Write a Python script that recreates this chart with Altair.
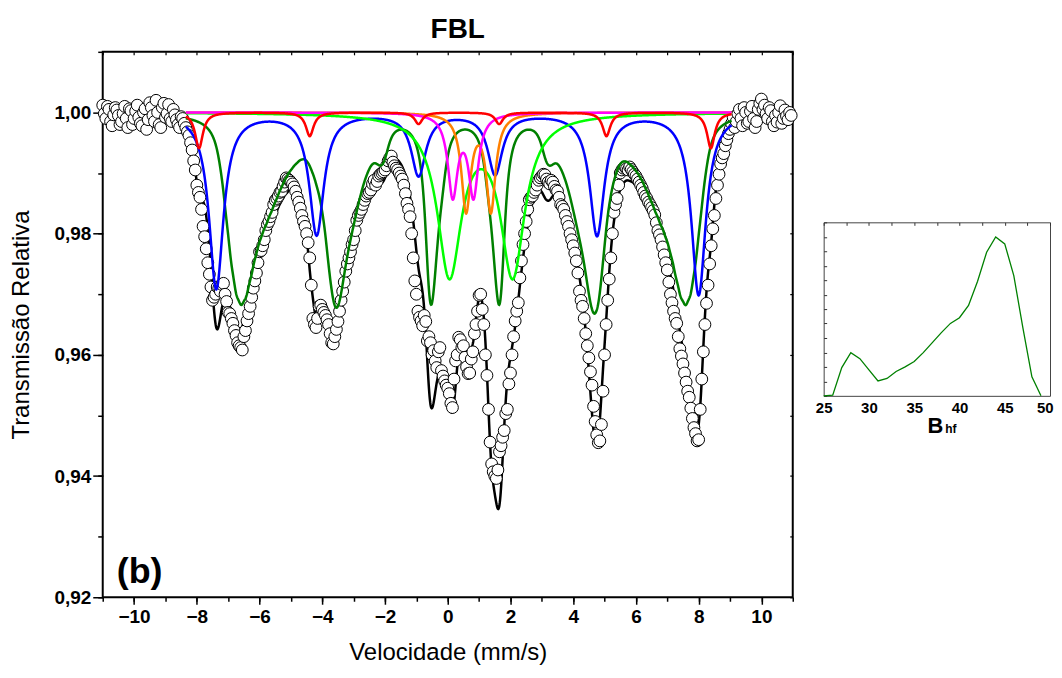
import numpy as np
import pandas as pd
import altair as alt

FONT = "Liberation Sans"

# ---------------- measured spectrum (relative transmission) ----------------
# two interleaved channel sets (folded spectrum)
VEL_START_A = -11.0
VEL_START_B = -10.95
VEL_STEP = 0.1
TRANSMISSION_A = [
    1.0012, 0.9990, 1.0005, 0.9978, 1.0008, 0.9995, 0.9985, 1.0010, 0.9975, 1.0003,
    0.9990, 1.0012, 0.9982, 1.0000, 0.9972, 1.0016, 0.9995, 1.0020, 0.9980, 1.0008,
    0.9992, 1.0013, 0.9985, 0.9996, 0.9980,
    0.9993, 0.9982, 0.9968, 0.9950, 0.9920, 0.9880, 0.9860, 0.9812, 0.9775, 0.9733,
    0.9690, 0.9700, 0.9710, 0.9716, 0.9700, 0.9670, 0.9660, 0.9640, 0.9620, 0.9612,
    0.9630, 0.9656, 0.9680, 0.9710, 0.9735, 0.9770, 0.9780, 0.9805, 0.9820, 0.9835,
    0.9855, 0.9862, 0.9870, 0.9885, 0.9890, 0.9885, 0.9877, 0.9860, 0.9842, 0.9820,
    0.9800, 0.9760, 0.9660, 0.9645, 0.9680, 0.9675, 0.9665, 0.9650, 0.9620, 0.9630,
    0.9655, 0.9690, 0.9720, 0.9750, 0.9770, 0.9790, 0.9822, 0.9835, 0.9848, 0.9862,
    0.9868, 0.9882, 0.9880, 0.9895, 0.9900, 0.9905, 0.9920, 0.9928, 0.9912, 0.9905,
    0.9895, 0.9880, 0.9850, 0.9828, 0.9760, 0.9700, 0.9662, 0.9648, 0.9655, 0.9630,
    0.9600, 0.9590, 0.9605, 0.9574, 0.9557,
    0.9545, 0.9520, 0.9560, 0.9600, 0.9625, 0.9615, 0.9580, 0.9570, 0.9605, 0.9650,
    0.9698, 0.9675, 0.9600, 0.9510, 0.9420, 0.9400, 0.9410, 0.9450, 0.9475, 0.9510,
    0.9570, 0.9630, 0.9672,
    0.9727, 0.9782, 0.9820, 0.9856, 0.9862, 0.9872, 0.9888, 0.9895, 0.9897, 0.9885,
    0.9888, 0.9878, 0.9870, 0.9848, 0.9840, 0.9820, 0.9800, 0.9780, 0.9755, 0.9705,
    0.9680, 0.9635, 0.9595, 0.9550, 0.9490, 0.9455, 0.9485, 0.9600, 0.9690, 0.9760,
    0.9835, 0.9858, 0.9900, 0.9908, 0.9907, 0.9910, 0.9902, 0.9895, 0.9885, 0.9875,
    0.9862, 0.9852, 0.9843, 0.9831, 0.9805, 0.9790, 0.9765, 0.9740, 0.9700, 0.9672,
    0.9652, 0.9610, 0.9585, 0.9555, 0.9530, 0.9495, 0.9470, 0.9460, 0.9560, 0.9650,
    0.9715, 0.9780, 0.9830, 0.9880, 0.9915, 0.9932, 0.9955, 0.9972, 0.9992, 0.9985,
    1.0005, 0.9978, 1.0000, 0.9985, 1.0010, 0.9975, 1.0005, 1.0022, 1.0012, 0.9990,
    1.0003, 0.9978, 0.9984, 1.0011, 0.9990, 0.9994, 1.0000,
]
TRANSMISSION_B = [
    0.9998, 1.0010, 0.9985, 0.9996, 1.0004, 0.9980, 0.9998, 0.9990, 1.0006, 0.9980,
    1.0002, 0.9992, 0.9978, 1.0006, 0.9988, 1.0008, 0.9985, 1.0000, 0.9975, 1.0015,
    0.9998, 0.9990, 1.0005, 0.9988, 0.9975,
    0.9990, 0.9975, 0.9962, 0.9938, 0.9905, 0.9868, 0.9840, 0.9795, 0.9752, 0.9712,
    0.9695, 0.9712, 0.9705, 0.9718, 0.9688, 0.9668, 0.9652, 0.9632, 0.9615, 0.9608,
    0.9640, 0.9668, 0.9695, 0.9722, 0.9752, 0.9772, 0.9790, 0.9815, 0.9828, 0.9848,
    0.9858, 0.9868, 0.9878, 0.9892, 0.9888, 0.9882, 0.9870, 0.9852, 0.9830, 0.9812,
    0.9785, 0.9715, 0.9650, 0.9660, 0.9682, 0.9670, 0.9658, 0.9635, 0.9618, 0.9642,
    0.9672, 0.9705, 0.9738, 0.9760, 0.9782, 0.9805, 0.9830, 0.9840, 0.9855, 0.9866,
    0.9872, 0.9888, 0.9886, 0.9898, 0.9902, 0.9912, 0.9925, 0.9918, 0.9908, 0.9900,
    0.9890, 0.9866, 0.9840, 0.9800, 0.9722, 0.9672, 0.9656, 0.9665, 0.9623, 0.9620,
    0.9607, 0.9579, 0.9612, 0.9565, 0.9550,
    0.9536, 0.9513, 0.9590, 0.9629, 0.9612, 0.9596, 0.9569, 0.9593, 0.9635, 0.9672,
    0.9700, 0.9650, 0.9566, 0.9456, 0.9407, 0.9396, 0.9440, 0.9464, 0.9503, 0.9552,
    0.9600, 0.9656, 0.9686,
    0.9755, 0.9800, 0.9840, 0.9860, 0.9868, 0.9880, 0.9892, 0.9898, 0.9890, 0.9882,
    0.9885, 0.9872, 0.9860, 0.9845, 0.9830, 0.9812, 0.9790, 0.9768, 0.9735, 0.9690,
    0.9660, 0.9615, 0.9572, 0.9515, 0.9468, 0.9458, 0.9540, 0.9650, 0.9725, 0.9800,
    0.9848, 0.9880, 0.9905, 0.9910, 0.9905, 0.9906, 0.9898, 0.9890, 0.9880, 0.9868,
    0.9858, 0.9848, 0.9838, 0.9818, 0.9798, 0.9778, 0.9752, 0.9720, 0.9686, 0.9660,
    0.9630, 0.9598, 0.9570, 0.9540, 0.9512, 0.9480, 0.9458, 0.9510, 0.9605, 0.9685,
    0.9750, 0.9808, 0.9858, 0.9898, 0.9925, 0.9945, 0.9965, 0.9982, 0.9975, 0.9998,
    0.9990, 1.0008, 0.9982, 1.0002, 0.9990, 0.9985, 1.0015, 1.0005, 0.9998, 1.0008,
    0.9985, 0.9995, 1.0000, 0.9982, 1.0004, 0.9988, 0.9995,
]

# ---------------- fitted sub-spectra (line positions / depths / half widths) ----------------
FIT_RANGE = [-8.35, 9.05]

RED_POS = [-7.93, -4.40, -0.93, 1.64, 5.06, 8.39]
RED_DEPTH = [0.0059, 0.0039, 0.0019, 0.0019, 0.0039, 0.0059]
RED_HW = 0.15

BLUE_POS = [-7.38, -4.18, -0.93, 1.51, 4.76, 8.00]
BLUE_DEPTH = [0.0290, 0.0200, 0.0102, 0.0100, 0.0201, 0.0300]
BLUE_HW = 0.28

LIME_POS = [0.054, 2.07]
LIME_DEPTH = [0.0262, 0.0262]
LIME_HW = 0.47

MAGENTA_POS = [0.16, 0.82]
MAGENTA_DEPTH = [0.01337, 0.01337]
MAGENTA_HW = 0.19

ORANGE_POS = [0.585, 1.375]
ORANGE_DEPTH = [0.0159, 0.0159]
ORANGE_HW = 0.18

# hyperfine field distribution (inset)
B_FIELD = [25, 26, 27, 28, 29, 30, 31, 32, 33, 34, 35, 36, 37, 38, 39, 40,
           41, 42, 43, 44, 45, 46, 47, 48, 49]
P_B = [0, 0.05, 1.95, 2.99, 2.57, 1.79, 1.03, 1.2, 1.68, 2.0, 2.37, 2.99, 3.68,
       4.37, 5.01, 5.4, 6.25, 7.93, 9.93, 10.99, 10.51, 8.32, 4.71, 1.31, 0]

GREEN_SHIFT = 0.5275
GREEN_QUAD = -0.0275
GREEN_LINE_SPLIT = [-0.16097, -0.09321, -0.02545, 0.02545, 0.09321, 0.16097]
GREEN_QUAD_SIGN = [1, -1, -1, -1, -1, 1]
GREEN_INTENSITY = [3.4, 2.25, 1.24, 1.24, 2.25, 3.4]
GREEN_HW = 0.17
GREEN_MAX_DEPTH = 0.0332

# ---------------- build curves ----------------
vel = np.linspace(FIT_RANGE[0], FIT_RANGE[1], 1741)


def lorentz_sum(pos, depth, hw):
    out = np.zeros_like(vel)
    for c, d in zip(pos, depth):
        out += d * hw ** 2 / ((vel - c) ** 2 + hw ** 2)
    return out


red = lorentz_sum(RED_POS, RED_DEPTH, RED_HW)
blue = lorentz_sum(BLUE_POS, BLUE_DEPTH, BLUE_HW)
lime = lorentz_sum(LIME_POS, LIME_DEPTH, LIME_HW)
magenta = lorentz_sum(MAGENTA_POS, MAGENTA_DEPTH, MAGENTA_HW)
orange = lorentz_sum(ORANGE_POS, ORANGE_DEPTH, ORANGE_HW)

green = np.zeros_like(vel)
for b, p in zip(B_FIELD, P_B):
    pos = [GREEN_SHIFT + s * b + q * GREEN_QUAD for s, q in zip(GREEN_LINE_SPLIT, GREEN_QUAD_SIGN)]
    green += lorentz_sum(pos, [p * i for i in GREEN_INTENSITY], GREEN_HW)
green = GREEN_MAX_DEPTH * green / green.max()

total = red + blue + lime + magenta + orange + green


def comp_df(depth):
    return pd.DataFrame({"v": vel, "t": 1.0 - depth})


data_df = pd.concat([
    pd.DataFrame({"v": VEL_START_A + VEL_STEP * np.arange(len(TRANSMISSION_A)),
                  "t": TRANSMISSION_A}),
    pd.DataFrame({"v": VEL_START_B + VEL_STEP * np.arange(len(TRANSMISSION_B)),
                  "t": TRANSMISSION_B}),
]).sort_values("v").reset_index(drop=True)

xs = alt.Scale(domain=[-11, 11], nice=False, zero=False)
ys = alt.Scale(domain=[0.92, 1.01], nice=False, zero=False)


def curve(df, color, width=2.5):
    return alt.Chart(df).mark_line(color=color, strokeWidth=width).encode(
        x=alt.X("v:Q", scale=xs, axis=None),
        y=alt.Y("t:Q", scale=ys, axis=None),
    )


X_MAJOR = [-10, -8, -6, -4, -2, 0, 2, 4, 6, 8, 10]
X_MINOR = list(range(-11, 12))
Y_MAJOR = [0.92, 0.94, 0.96, 0.98, 1.00]
Y_MINOR = [0.92, 0.93, 0.94, 0.95, 0.96, 0.97, 0.98, 0.99, 1.00, 1.01]

axis_major = alt.Chart(data_df).mark_point(opacity=0).encode(
    x=alt.X("v:Q", scale=xs, axis=alt.Axis(
        orient="bottom", values=X_MAJOR, tickSize=7, tickWidth=1.5, tickColor="black",
        domain=False, grid=False, labelFont=FONT, labelFontSize=19, labelFontWeight="bold",
        labelColor="black", labelPadding=3, labelFlush=False, labelOverlap=False,
        title="Velocidade (mm/s)", titleFont=FONT, titleFontSize=24, titleFontWeight="normal",
        titleColor="black", titlePadding=14)),
    y=alt.Y("t:Q", scale=ys, axis=alt.Axis(
        orient="left", values=Y_MAJOR, tickSize=10, tickWidth=1.5, tickColor="black",
        domain=False, grid=False, labelFont=FONT, labelFontSize=19, labelFontWeight="bold",
        labelColor="black", labelPadding=2, labelFlush=False, labelOverlap=False,
        labelExpr="replace(format(datum.value, '.2f'), '.', ',')",
        title="Transmissão Relativa", titleFont=FONT, titleFontSize=24, titleFontWeight="normal",
        titleColor="black", titlePadding=20)),
)

axis_minor = alt.Chart(data_df).mark_point(opacity=0).encode(
    x=alt.X("v:Q", scale=xs, axis=alt.Axis(
        orient="bottom", values=X_MINOR, tickSize=4, tickWidth=1.5, tickColor="black",
        domain=False, grid=False, labels=False, title=None)),
    y=alt.Y("t:Q", scale=ys, axis=alt.Axis(
        orient="left", values=Y_MINOR, tickSize=5, tickWidth=1.5, tickColor="black",
        domain=False, grid=False, labels=False, title=None)),
)

axis_frame = alt.Chart(data_df).mark_point(opacity=0).encode(
    x=alt.X("v:Q", scale=xs, axis=alt.Axis(
        orient="top", values=X_MINOR, tickSize=3, tickWidth=1.2, tickColor="black", offset=-3,
        domain=False, grid=False, labels=False, title=None)),
    y=alt.Y("t:Q", scale=ys, axis=alt.Axis(
        orient="right", values=Y_MINOR, tickSize=3, tickWidth=1.2, tickColor="black", offset=-3,
        domain=False, grid=False, labels=False, title=None)),
)

black_fit = curve(comp_df(total), "black", 2.5)
points = alt.Chart(data_df).mark_point(
    shape="circle", filled=True, fill="white", stroke="black", strokeWidth=1,
    size=140, opacity=1,
).encode(
    x=alt.X("v:Q", scale=xs, axis=None),
    y=alt.Y("t:Q", scale=ys, axis=None),
)

panel_label = alt.Chart(pd.DataFrame({"s": ["(b)"]})).mark_text(
    font=FONT, fontSize=36, fontWeight="bold", color="black", align="center",
    baseline="alphabetic",
).encode(x=alt.value(37), y=alt.value(533), text="s:N")

main = alt.layer(
    axis_major, axis_minor, axis_frame,
    black_fit, points,
    curve(comp_df(green), "#008000"),
    curve(comp_df(blue), "#0000FF"),
    curve(comp_df(lime), "#00FF00"),
    curve(comp_df(orange), "#FF8000"),
    curve(comp_df(magenta), "#FF00FF"),
    curve(comp_df(red), "#FF0000"),
    panel_label,
).resolve_axis(x="independent", y="independent").properties(
    width=692, height=547,
    title=alt.TitleParams("FBL", font=FONT, fontSize=28, fontWeight="bold", color="black",
                          anchor="middle", frame="group", offset=7, dx=10),
    view=alt.ViewBackground(stroke="black", strokeWidth=2),
)

# ---------------- inset: field distribution ----------------
inset_df = pd.DataFrame({"B": B_FIELD, "P": P_B})
bxs = alt.Scale(domain=[25, 50], nice=False, zero=False)
bys = alt.Scale(domain=[0, 12], nice=False, zero=False)

INSET_W = 227
INSET_H = 174

inset_line = alt.Chart(inset_df).mark_line(color="#008000", strokeWidth=1.3).encode(
    x=alt.X("B:Q", scale=bxs, axis=None),
    y=alt.Y("P:Q", scale=bys, axis=None),
)
inset_axis_bottom = alt.Chart(inset_df).mark_point(opacity=0).encode(
    x=alt.X("B:Q", scale=bxs, axis=alt.Axis(
        orient="bottom", values=[25, 30, 35, 40, 45, 50], ticks=False, domain=False, grid=False,
        labelFont=FONT, labelFontSize=15, labelFontWeight="bold", labelColor="black",
        labelPadding=5, labelFlush=False, labelOverlap=False, title=None,
        labelAlign={"condition": {"test": "datum.value === 50", "value": "right"},
                    "value": "center"},
        labelOffset={"condition": {"test": "datum.value === 50", "value": 3},
                     "value": 0})),
    y=alt.Y("P:Q", scale=bys, axis=alt.Axis(
        orient="left", values=list(range(0, 13)), tickSize=3, tickColor="#333333", offset=-3,
        domain=False, grid=False, labels=False, title=None)),
)
inset_axis_top = alt.Chart(inset_df).mark_point(opacity=0).encode(
    x=alt.X("B:Q", scale=bxs, axis=alt.Axis(
        orient="top", values=[25, 27.5, 30, 32.5, 35, 37.5, 40, 42.5, 45, 47.5, 50],
        tickSize=3, tickColor="#333333", offset=-3, domain=False, grid=False,
        labels=False, title=None)),
)
b_text = alt.Chart(pd.DataFrame({"s": ["B"]})).mark_text(
    font=FONT, fontSize=22, fontWeight="bold", color="black", align="center",
    baseline="alphabetic",
).encode(x=alt.value(112), y=alt.value(211), text="s:N")
hf_text = alt.Chart(pd.DataFrame({"s": ["hf"]})).mark_text(
    font=FONT, fontSize=12, fontWeight="bold", color="black", align="left",
    baseline="alphabetic",
).encode(x=alt.value(122), y=alt.value(211), text="s:N")

inset = alt.layer(
    inset_axis_bottom, inset_axis_top, inset_line, b_text, hf_text,
).resolve_axis(x="independent", y="independent").properties(
    width=INSET_W, height=INSET_H,
    view=alt.ViewBackground(stroke="#444444", strokeWidth=1),
)

SPACER_H = 169
spacer = alt.Chart(pd.DataFrame({"a": [0]})).mark_rect(opacity=0).encode(
    x=alt.value(0), x2=alt.value(INSET_W), y=alt.value(0), y2=alt.value(SPACER_H),
).properties(width=INSET_W, height=SPACER_H, view=alt.ViewBackground(stroke="transparent"))

right = alt.vconcat(spacer, inset, spacing=0)

chart = alt.hconcat(main, right, spacing=14).configure(
    padding={"left": 1, "top": 6, "right": 0, "bottom": 0},
    font=FONT,
)

chart.save("out.html", embed_options={"renderer": "svg", "actions": False})
